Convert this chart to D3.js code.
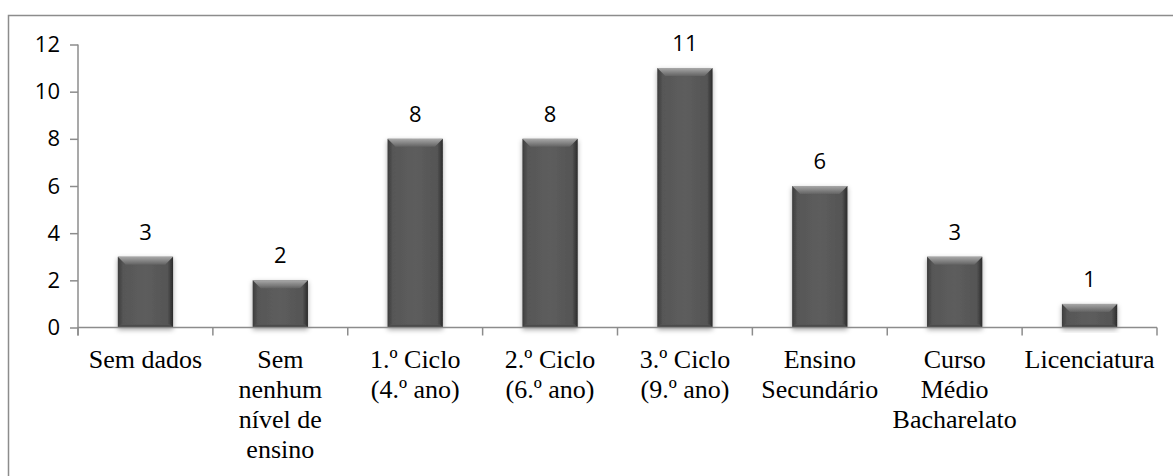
<!DOCTYPE html>
<html>
<head>
<meta charset="utf-8">
<script src="https://cdn.jsdelivr.net/npm/d3@7"></script>
<style>
  body { margin: 0; background: #fff; }
  svg { display: block; }
</style>
</head>
<body>
<div id="chart"></div>
<script>
// data
var categories = ["Sem dados", "Sem nenhum nível de ensino", "1.º Ciclo (4.º ano)", "2.º Ciclo (6.º ano)",
                  "3.º Ciclo (9.º ano)", "Ensino Secundário", "Curso Médio Bacharelato", "Licenciatura"];
var labelLines = [["Sem dados"], ["Sem", "nenhum", "nível de", "ensino"], ["1.º Ciclo", "(4.º ano)"],
                  ["2.º Ciclo", "(6.º ano)"], ["3.º Ciclo", "(9.º ano)"], ["Ensino", "Secundário"],
                  ["Curso", "Médio", "Bacharelato"], ["Licenciatura"]];
var values = [3, 2, 8, 8, 11, 6, 3, 1];
var yTicks = [0, 2, 4, 6, 8, 10, 12];

// dimensions
var svgWidth = 1173, svgHeight = 476;
var plot = { left: 78, right: 1157, top: 44.5, bottom: 327.5 };

var svg = d3.select("#chart").append("svg")
    .attr("width", svgWidth)
    .attr("height", svgHeight);

var defs = svg.append("defs");

// bar body gradient (horizontal)
var gBody = defs.append("linearGradient").attr("id", "barBody")
    .attr("x1", "0").attr("x2", "1").attr("y1", "0").attr("y2", "0");
gBody.append("stop").attr("offset", "0%").attr("stop-color", "#3c3c3c");
gBody.append("stop").attr("offset", "10%").attr("stop-color", "#575757");
gBody.append("stop").attr("offset", "50%").attr("stop-color", "#5d5d5d");
gBody.append("stop").attr("offset", "90%").attr("stop-color", "#555");
gBody.append("stop").attr("offset", "100%").attr("stop-color", "#2a2a2a");

// top bevel gradient (vertical)
var gTop = defs.append("linearGradient").attr("id", "barTop")
    .attr("x1", "0").attr("x2", "0").attr("y1", "0").attr("y2", "1");
gTop.append("stop").attr("offset", "0%").attr("stop-color", "#a8a8a8");
gTop.append("stop").attr("offset", "100%").attr("stop-color", "#626262");

// bottom bevel gradient
var gBot = defs.append("linearGradient").attr("id", "barBot")
    .attr("x1", "0").attr("x2", "0").attr("y1", "0").attr("y2", "1");
gBot.append("stop").attr("offset", "0%").attr("stop-color", "#555");
gBot.append("stop").attr("offset", "100%").attr("stop-color", "#3a3a3a");

// soft shadow
var shadow = defs.append("filter").attr("id", "shadow")
    .attr("x", "-20%").attr("y", "-10%").attr("width", "140%").attr("height", "130%");
shadow.append("feDropShadow").attr("dx", 0).attr("dy", 2).attr("stdDeviation", 2.5)
    .attr("flood-color", "#000").attr("flood-opacity", 0.35);

// outer frame
svg.append("rect")
    .attr("x", 8.5).attr("y", 15.5)
    .attr("width", 1180).attr("height", 480)
    .attr("fill", "none")
    .attr("stroke", "#8c8c8c")
    .attr("stroke-width", 1.5);

// scales
var x = d3.scaleBand().domain(categories).range([plot.left, plot.right]).padding(0);
var y = d3.scaleLinear().domain([0, 12]).range([plot.bottom, plot.top]);
var barW = x.bandwidth() * 0.41;

// Y axis
var yAxis = svg.append("g").attr("transform", `translate(${plot.left},0)`)
    .call(d3.axisLeft(y).tickValues(yTicks).tickSize(8).tickPadding(10).tickSizeOuter(0));
yAxis.select(".domain").attr("stroke", "#8c8c8c").attr("stroke-width", 1.5)
    .attr("d", `M0,${plot.top}V${plot.bottom + 8}`);
yAxis.selectAll(".tick line").attr("stroke", "#8c8c8c").attr("stroke-width", 1.5);
yAxis.selectAll(".tick text")
    .attr("font-family", "'Open Sans', sans-serif")
    .attr("font-size", 22)
    .attr("fill", "#000");

// bars
var bars = svg.append("g").selectAll("g.bar")
    .data(values)
    .join("g")
    .attr("class", "bar")
    .attr("filter", "url(#shadow)");

bars.each(function(d, i) {
    var g = d3.select(this);
    var x0 = x(categories[i]) + (x.bandwidth() - barW) / 2;
    var x1 = x0 + barW;
    var y0 = y(d), y1 = y(0);
    var bev = Math.min(8, (y1 - y0) / 2);
    g.append("rect")
        .attr("x", x0).attr("y", y0)
        .attr("width", barW).attr("height", y1 - y0)
        .attr("fill", "url(#barBody)");
    g.append("path")
        .attr("d", `M${x0},${y0}L${x1},${y0}L${x1 - bev},${y0 + bev}L${x0 + bev},${y0 + bev}Z`)
        .attr("fill", "url(#barTop)");
    g.append("path")
        .attr("d", `M${x0 + 3},${y1 - 3}L${x1 - 3},${y1 - 3}L${x1},${y1}L${x0},${y1}Z`)
        .attr("fill", "url(#barBot)");
});

// X axis
var xAxis = svg.append("g").attr("transform", `translate(0,${plot.bottom})`);
xAxis.append("line")
    .attr("x1", plot.left).attr("x2", plot.right)
    .attr("stroke", "#8c8c8c").attr("stroke-width", 1.5);
xAxis.selectAll("line.tick")
    .data(categories.concat(["end"]))
    .join("line")
    .attr("class", "tick")
    .attr("x1", function(d, i) { return i < categories.length ? x(d) : plot.right; })
    .attr("x2", function(d, i) { return i < categories.length ? x(d) : plot.right; })
    .attr("y1", 0).attr("y2", 8)
    .attr("stroke", "#8c8c8c").attr("stroke-width", 1.5);

// category labels
var catText = svg.append("g").selectAll("text")
    .data(categories)
    .join("text")
    .attr("x", function(d) { return x(d) + x.bandwidth() / 2; })
    .attr("y", 368)
    .attr("text-anchor", "middle")
    .attr("font-family", "'Liberation Serif', 'Times New Roman', serif")
    .attr("font-size", 26)
    .attr("fill", "#000");
catText.each(function(d, i) {
    var t = d3.select(this);
    labelLines[i].forEach(function(line, j) {
        t.append("tspan")
            .attr("x", x(d) + x.bandwidth() / 2)
            .attr("dy", j === 0 ? 0 : 30)
            .text(line);
    });
});

// value labels
svg.append("g").selectAll("text")
    .data(values)
    .join("text")
    .attr("x", function(d, i) { return x(categories[i]) + x.bandwidth() / 2; })
    .attr("y", function(d) { return y(d) - 17; })
    .attr("text-anchor", "middle")
    .attr("font-family", "'Open Sans', sans-serif")
    .attr("font-size", 22)
    .attr("fill", "#000")
    .text(function(d) { return d; });
</script>
</body>
</html>
